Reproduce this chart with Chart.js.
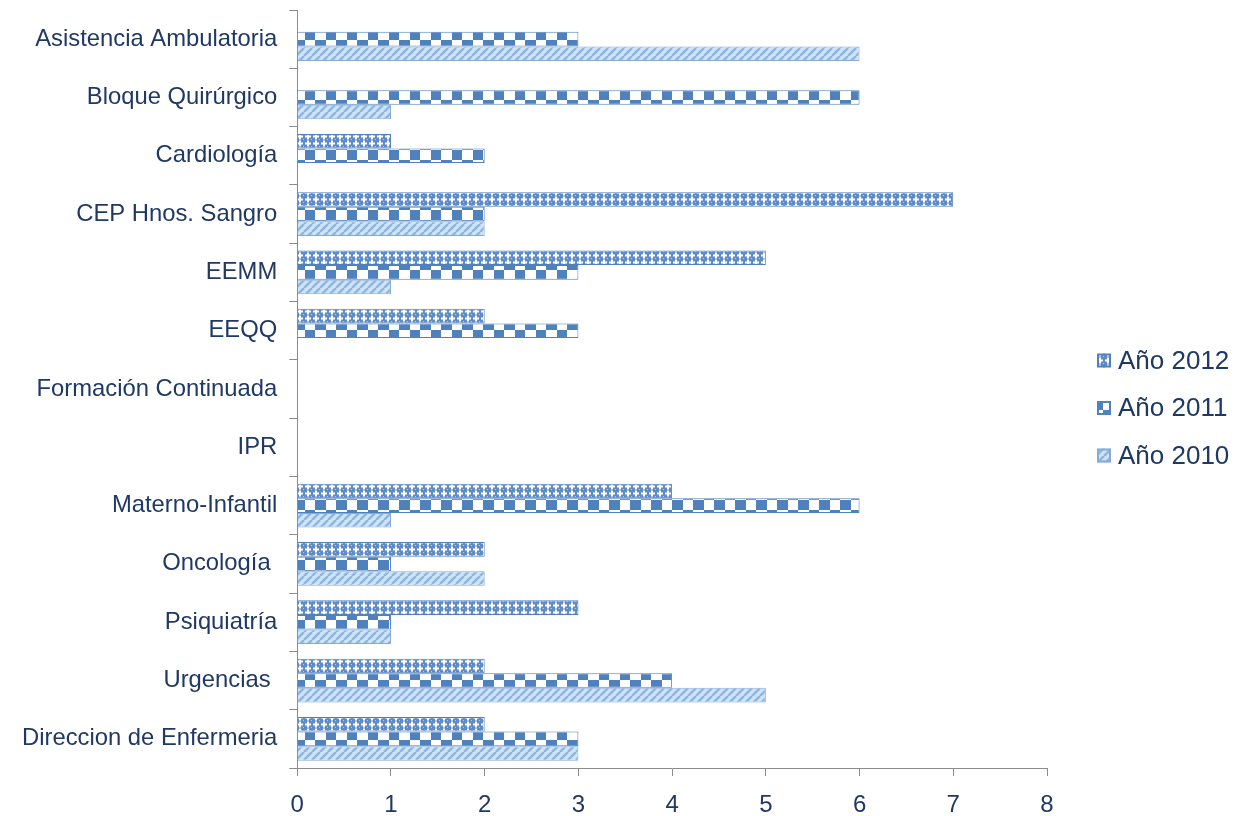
<!DOCTYPE html>
<html>
<head>
<meta charset="utf-8">
<script src="https://cdn.jsdelivr.net/npm/chart.js"></script>
<style>
  body { margin: 0; background: #ffffff; }
  #chart { display: block; }
</style>
</head>
<body>
<canvas id="chart" width="1250" height="816"></canvas>
<script>
// Data
var categories = [
    "Asistencia Ambulatoria", "Bloque Quirúrgico", "Cardiología", "CEP Hnos. Sangro",
    "EEMM", "EEQQ", "Formación Continuada", "IPR", "Materno-Infantil",
    "Oncología ", "Psiquiatría", "Urgencias ", "Direccion de Enfermeria"
];
var seriesNames = ["Año 2012", "Año 2011", "Año 2010"];
var values2012 = [0, 0, 1, 7, 5, 2, 0, 0, 4, 2, 3, 2, 2];
var values2011 = [3, 6, 2, 2, 3, 3, 0, 0, 6, 1, 1, 4, 3];
var values2010 = [6, 1, 0, 2, 1, 0, 0, 0, 1, 2, 1, 5, 3];
var xTicks = [0, 1, 2, 3, 4, 5, 6, 7, 8];

var textColor = '#1f3864';
var axisColor = '#8c8c8c';
var fontFamily = '"Liberation Sans", Arial, sans-serif';

// Patterns
function makeTile(w, h, draw) {
    var c = document.createElement('canvas');
    c.width = w;
    c.height = h;
    draw(c.getContext('2d'), w, h);
    return c.getContext('2d').createPattern(c, 'repeat');
}

// 2012: white crosses on blue
var pattern2012 = makeTile(8, 7, function(g, w, h) {
    g.fillStyle = '#5f8bc6';
    g.fillRect(0, 0, w, h);
    g.fillStyle = '#ffffff';
    g.fillRect(1, 2.5, 6, 2);
    g.fillRect(3, 0.5, 2, 6);
    g.fillStyle = '#b3c9e8';
    g.fillRect(7, 6, 1, 1);
});

// 2011: large checkerboard
var pattern2011 = makeTile(21, 20, function(g, w, h) {
    g.fillStyle = '#ffffff';
    g.fillRect(0, 0, w, h);
    g.fillStyle = '#4f81bd';
    g.fillRect(0, 0, 11, 10);
    g.fillRect(11, 10, 10, 10);
});

// 2010: light diagonal stripes
var pattern2010 = makeTile(8, 8, function(g, w, h) {
    g.fillStyle = '#cfe4f7';
    g.fillRect(0, 0, w, h);
    g.strokeStyle = '#8fb6e2';
    g.lineWidth = 2.5;
    g.beginPath();
    for (var i = -1; i <= 1; i++) {
        g.moveTo(i * w, h);
        g.lineTo(i * w + w, 0);
    }
    g.stroke();
});

// simple legend on the right, drawn from the datasets
var sideLegend = {
    id: 'sideLegend',
    afterDraw: function(chart) {
        var c = chart.ctx;
        var x = chart.chartArea.right + 50;
        var yMid = (chart.chartArea.top + chart.chartArea.bottom) / 2;
        var step = 47.5;
        var sets = chart.data.datasets;
        c.save();
        c.font = '26px ' + fontFamily;
        c.textBaseline = 'middle';
        c.textAlign = 'left';
        sets.forEach(function(ds, i) {
            var y = yMid + (i - (sets.length - 1) / 2) * step + 19;
            c.fillStyle = ds.backgroundColor;
            c.fillRect(x, y - 7, 14, 14);
            c.strokeStyle = ds.borderColor;
            c.lineWidth = 2;
            c.strokeRect(x + 1, y - 6, 12, 12);
            c.fillStyle = textColor;
            c.fillText(ds.label, x + 21, y + 1);
        });
        c.restore();
    }
};

window.onload = function() {
    var ctx = document.getElementById('chart').getContext('2d');
    new Chart(ctx, {
        type: 'bar',
        data: {
            labels: categories,
            datasets: [
                {
                    label: seriesNames[0],
                    data: values2012,
                    backgroundColor: pattern2012,
                    borderColor: '#4f81bd',
                    borderWidth: 1
                },
                {
                    label: seriesNames[1],
                    data: values2011,
                    backgroundColor: pattern2011,
                    borderColor: '#4f81bd',
                    borderWidth: 1
                },
                {
                    label: seriesNames[2],
                    data: values2010,
                    backgroundColor: pattern2010,
                    borderColor: '#8aa9d4',
                    borderWidth: 1
                }
            ]
        },
        options: {
            indexAxis: 'y',
            responsive: false,
            animation: false,
            maintainAspectRatio: false,
            categoryPercentage: 0.75,
            barPercentage: 1,
            layout: {
                padding: { left: 10, right: 203, top: 10, bottom: 0 }
            },
            plugins: {
                legend: { display: false },
                tooltip: { enabled: false }
            },
            scales: {
                x: {
                    min: 0,
                    max: 8,
                    afterBuildTicks: function(scale) {
                        scale.ticks = xTicks.map(function(v) { return { value: v }; });
                    },
                    afterFit: function(scale) {
                        scale.height = 48;
                    },
                    grid: {
                        drawOnChartArea: false,
                        drawTicks: true,
                        tickLength: 8,
                        color: axisColor
                    },
                    border: { color: axisColor, width: 1 },
                    ticks: {
                        color: textColor,
                        padding: 15,
                        maxRotation: 0,
                        font: { family: fontFamily, size: 24 }
                    }
                },
                y: {
                    afterFit: function(scale) {
                        scale.paddingTop = 0;
                        scale.paddingBottom = 0;
                    },
                    grid: {
                        offset: true,
                        drawOnChartArea: false,
                        drawTicks: true,
                        tickLength: 8,
                        color: axisColor
                    },
                    border: { color: axisColor, width: 1 },
                    ticks: {
                        color: textColor,
                        padding: 12,
                        autoSkip: false,
                        font: { family: fontFamily, size: 23.8 }
                    }
                }
            }
        },
        plugins: [sideLegend]
    });
};
</script>
</body>
</html>
